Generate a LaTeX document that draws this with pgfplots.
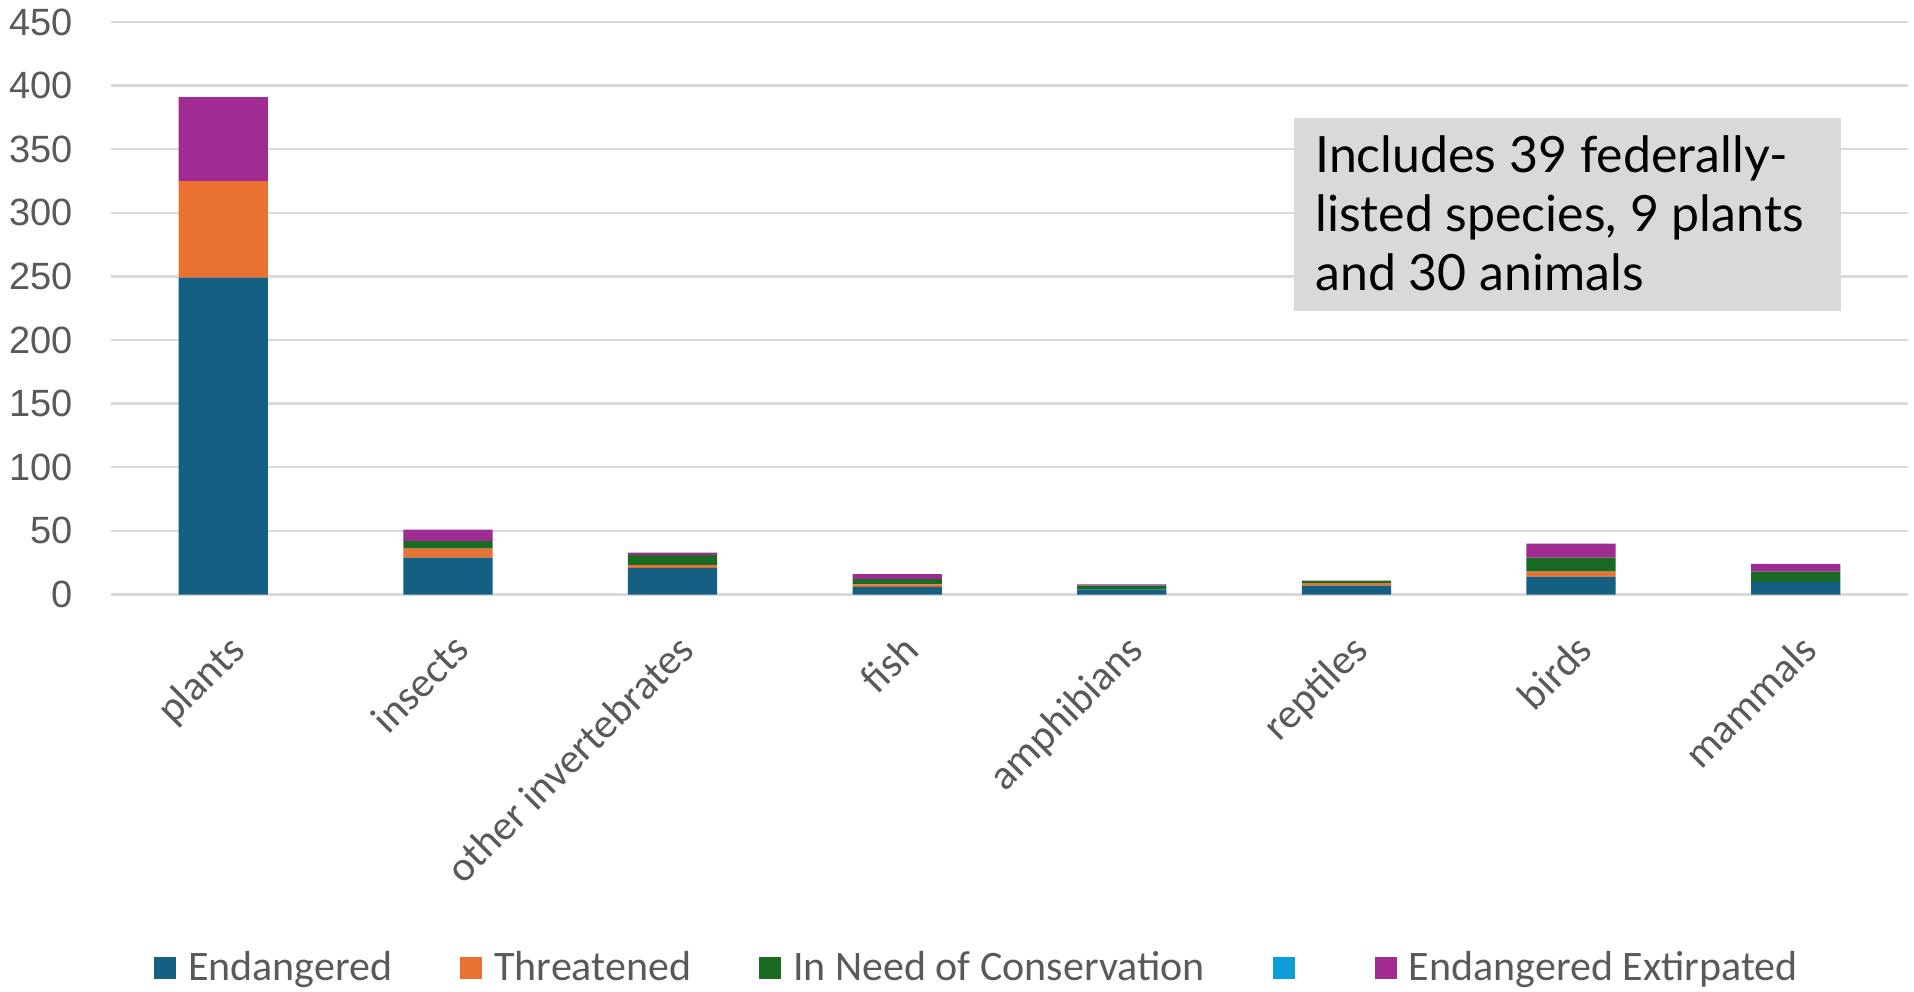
\documentclass[border=0pt]{standalone}
\usepackage{pgfplots}
\pgfplotsset{compat=1.18}
\usepackage{fontspec}
\setmainfont{Carlito}
\newfontfamily\tickfont{Liberation Sans}
\newfontfamily\notefont{Lato}
\definecolor{cEnd}{HTML}{156082}
\definecolor{cThr}{HTML}{E97132}
\definecolor{cNeed}{HTML}{196B24}
\definecolor{cLB}{HTML}{0F9ED5}
\definecolor{cExt}{HTML}{A02B93}
\definecolor{gridc}{HTML}{D9D9D9}
\definecolor{txt}{HTML}{595959}
\begin{document}
\begin{tikzpicture}[x=1pt,y=1pt]
\begin{axis}[
  at={(55.5pt,198.25pt)}, anchor=south west,
  scale only axis, width=898.5pt, height=286.25pt,
  ybar stacked, bar width=44.6pt,
  xmin=-0.5, xmax=7.5, ymin=0, ymax=450,
  ytick={0,50,...,450},
  xtick=data,
  xticklabels={plants,insects,other invertebrates,fish,amphibians,reptiles,birds,mammals},
  axis line style={draw=none},
  major tick style={draw=none},
  ymajorgrids, grid style={gridc, line width=1.2pt},
  yticklabel style={font=\tickfont\fontsize{19}{22}\selectfont, text=txt, anchor=east, inner sep=0pt},
  yticklabel shift=19pt,
  /pgf/number format/assume math mode=true,
  xticklabel style={font=\fontsize{21}{25}\selectfont, text=txt, rotate=45, anchor=north east, inner sep=0pt, xshift=-12pt, yshift=-14pt},
  legend columns=5,
  legend style={at={(0.4825,-0.652)}, anchor=center, draw=none, fill=none,
    font=\fontsize{21}{25}\selectfont, text=txt,
    /tikz/every odd column/.append style={column sep=4pt},
    /tikz/every even column/.append style={column sep=32pt}},
  legend image code/.code={\fill[#1] (0pt,-5.5pt) rectangle (11pt,5.5pt);},
]
\addplot[fill=cEnd, draw=none] coordinates {(0,249) (1,29) (2,21) (3,6) (4,4) (5,7) (6,14) (7,10)};
\addlegendentry{Endangered}
\addplot[fill=cThr, draw=none] coordinates {(0,76) (1,7) (2,2) (3,2) (4,0) (5,2) (6,4) (7,0)};
\addlegendentry{Threatened}
\addplot[fill=cNeed, draw=none] coordinates {(0,0) (1,6) (2,8) (3,4) (4,3) (5,2) (6,11) (7,8)};
\addlegendentry{In Need of Conservation}
\addplot[fill=cLB, draw=none] coordinates {(0,0) (1,0) (2,0) (3,0) (4,0) (5,0) (6,0) (7,0)};
\addlegendentry{\mbox{}}
\addplot[fill=cExt, draw=none] coordinates {(0,66) (1,9) (2,2) (3,4) (4,1) (5,0) (6,11) (7,6)};
\addlegendentry{Endangered Extirpated}
\end{axis}
\fill[gridc] (647pt,340pt) rectangle (920.5pt,436.5pt);
\node[anchor=north west, inner sep=0pt, align=left, font=\notefont\fontsize{25}{29.5}\selectfont] at (657.5pt,428pt) {Includes 39 federally-\\listed species, 9 plants\\and 30 animals};
\pgfresetboundingbox
\path[use as bounding box] (0,0) rectangle (957pt,495.5pt);
\end{tikzpicture}
\end{document}
